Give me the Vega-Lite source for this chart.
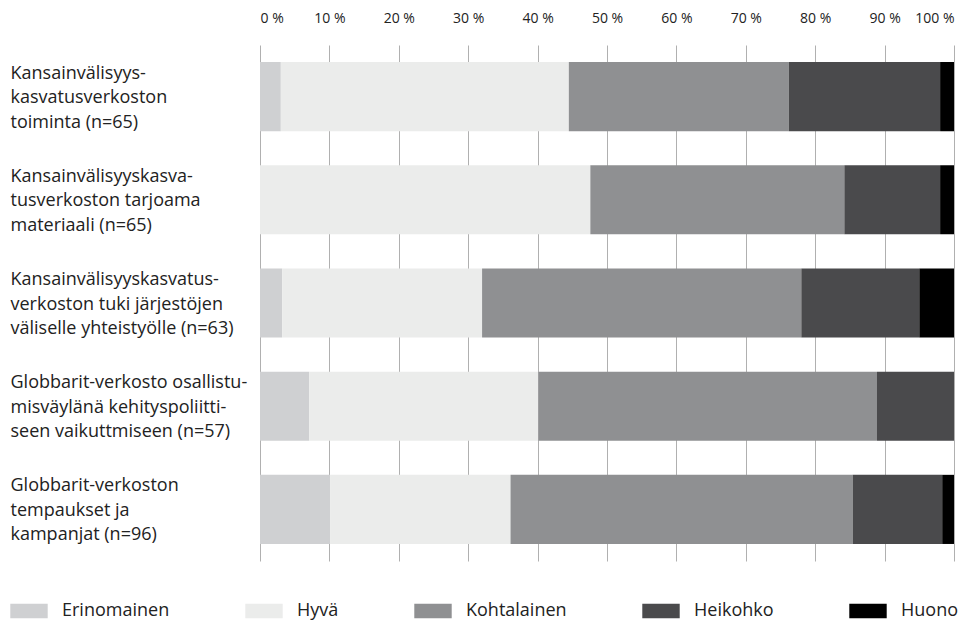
{
  "$schema": "https://vega.github.io/schema/vega-lite/v6.json",
  "width": 694,
  "height": 516,
  "autosize": {"type": "none"},
  "padding": {"left": 260, "top": 45, "right": 6, "bottom": 62},
  "background": "white",
  "config": {
    "view": {"stroke": null},
    "font": "Open Sans"
  },
  "data": {
    "values": [
      {"q": "Kansainvälisyys-|kasvatusverkoston|toiminta (n=65)", "r": "Erinomainen", "p": 3.0},
      {"q": "Kansainvälisyys-|kasvatusverkoston|toiminta (n=65)", "r": "Hyvä", "p": 41.5},
      {"q": "Kansainvälisyys-|kasvatusverkoston|toiminta (n=65)", "r": "Kohtalainen", "p": 31.7},
      {"q": "Kansainvälisyys-|kasvatusverkoston|toiminta (n=65)", "r": "Heikohko", "p": 21.8},
      {"q": "Kansainvälisyys-|kasvatusverkoston|toiminta (n=65)", "r": "Huono", "p": 2.0},
      {"q": "Kansainvälisyyskasva-|tusverkoston tarjoama|materiaali (n=65)", "r": "Erinomainen", "p": 0},
      {"q": "Kansainvälisyyskasva-|tusverkoston tarjoama|materiaali (n=65)", "r": "Hyvä", "p": 47.6},
      {"q": "Kansainvälisyyskasva-|tusverkoston tarjoama|materiaali (n=65)", "r": "Kohtalainen", "p": 36.6},
      {"q": "Kansainvälisyyskasva-|tusverkoston tarjoama|materiaali (n=65)", "r": "Heikohko", "p": 13.8},
      {"q": "Kansainvälisyyskasva-|tusverkoston tarjoama|materiaali (n=65)", "r": "Huono", "p": 2.0},
      {"q": "Kansainvälisyyskasvatus-|verkoston tuki järjestöjen|väliselle yhteistyölle (n=63)", "r": "Erinomainen", "p": 3.2},
      {"q": "Kansainvälisyyskasvatus-|verkoston tuki järjestöjen|väliselle yhteistyölle (n=63)", "r": "Hyvä", "p": 28.8},
      {"q": "Kansainvälisyyskasvatus-|verkoston tuki järjestöjen|väliselle yhteistyölle (n=63)", "r": "Kohtalainen", "p": 46.0},
      {"q": "Kansainvälisyyskasvatus-|verkoston tuki järjestöjen|väliselle yhteistyölle (n=63)", "r": "Heikohko", "p": 17.0},
      {"q": "Kansainvälisyyskasvatus-|verkoston tuki järjestöjen|väliselle yhteistyölle (n=63)", "r": "Huono", "p": 5.0},
      {"q": "Globbarit-verkosto osallistu-|misväylänä kehityspoliitti-|seen vaikuttmiseen (n=57)", "r": "Erinomainen", "p": 7.1},
      {"q": "Globbarit-verkosto osallistu-|misväylänä kehityspoliitti-|seen vaikuttmiseen (n=57)", "r": "Hyvä", "p": 33.0},
      {"q": "Globbarit-verkosto osallistu-|misväylänä kehityspoliitti-|seen vaikuttmiseen (n=57)", "r": "Kohtalainen", "p": 48.8},
      {"q": "Globbarit-verkosto osallistu-|misväylänä kehityspoliitti-|seen vaikuttmiseen (n=57)", "r": "Heikohko", "p": 11.1},
      {"q": "Globbarit-verkosto osallistu-|misväylänä kehityspoliitti-|seen vaikuttmiseen (n=57)", "r": "Huono", "p": 0},
      {"q": "Globbarit-verkoston|tempaukset ja|kampanjat (n=96)", "r": "Erinomainen", "p": 10.1},
      {"q": "Globbarit-verkoston|tempaukset ja|kampanjat (n=96)", "r": "Hyvä", "p": 26.0},
      {"q": "Globbarit-verkoston|tempaukset ja|kampanjat (n=96)", "r": "Kohtalainen", "p": 49.3},
      {"q": "Globbarit-verkoston|tempaukset ja|kampanjat (n=96)", "r": "Heikohko", "p": 12.9},
      {"q": "Globbarit-verkoston|tempaukset ja|kampanjat (n=96)", "r": "Huono", "p": 1.7}
    ]
  },
  "transform": [
    {"calculate": "indexof(['Erinomainen', 'Hyvä', 'Kohtalainen', 'Heikohko', 'Huono'], datum.r)", "as": "ord"}
  ],
  "mark": {"type": "bar"},
  "encoding": {
    "y": {
      "field": "q",
      "type": "nominal",
      "sort": null,
      "scale": {"paddingInner": 0.33, "paddingOuter": 0.165},
      "axis": {
        "title": null,
        "domain": false,
        "ticks": false,
        "labelAlign": "left",
        "labelPadding": 250,
        "labelFontSize": 18,
        "labelColor": "#222222",
        "labelLineHeight": 24.5,
        "labelBaseline": "middle",
        "labelOffset": -23,
        "labelExpr": "split(datum.label, '|')",
        "labelLimit": 300
      }
    },
    "x": {
      "field": "p",
      "type": "quantitative",
      "stack": "normalize",
      "scale": {"domain": [0, 1], "nice": false},
      "axis": {
        "orient": "top",
        "title": null,
        "domain": false,
        "ticks": false,
        "values": [0, 0.1, 0.2, 0.3, 0.4, 0.5, 0.6, 0.7, 0.8, 0.9, 1],
        "grid": true,
        "gridColor": "#b0b0b0",
        "gridWidth": 1,
        "labelPadding": 20,
        "labelFontSize": 14,
        "labelColor": "#222222",
        "labelOverlap": false,
        "labelExpr": "format(datum.value * 100, 'd') + ' %'",
        "labelFlush": true
      }
    },
    "order": {"field": "ord", "type": "quantitative", "sort": "ascending"},
    "color": {
      "field": "r",
      "type": "nominal",
      "sort": ["Erinomainen", "Hyvä", "Kohtalainen", "Heikohko", "Huono"],
      "scale": {
        "domain": ["Erinomainen", "Hyvä", "Kohtalainen", "Heikohko", "Huono"],
        "range": ["#cfd0d2", "#ebeceb", "#8f9092", "#4a4a4c", "#000000"]
      },
      "legend": {
        "title": null,
        "orient": "none",
        "direction": "horizontal",
        "legendX": -250,
        "legendY": 547,
        "symbolType": "M-1,-0.39H1V0.39H-1Z",
        "symbolSize": 1400,
        "symbolStrokeWidth": 0,
        "symbolOpacity": 1,
        "labelFontSize": 18,
        "labelColor": "#222222",
        "labelOffset": 14,
        "columnPadding": 75,
        "gridAlign": "none"
      }
    }
  }
}
